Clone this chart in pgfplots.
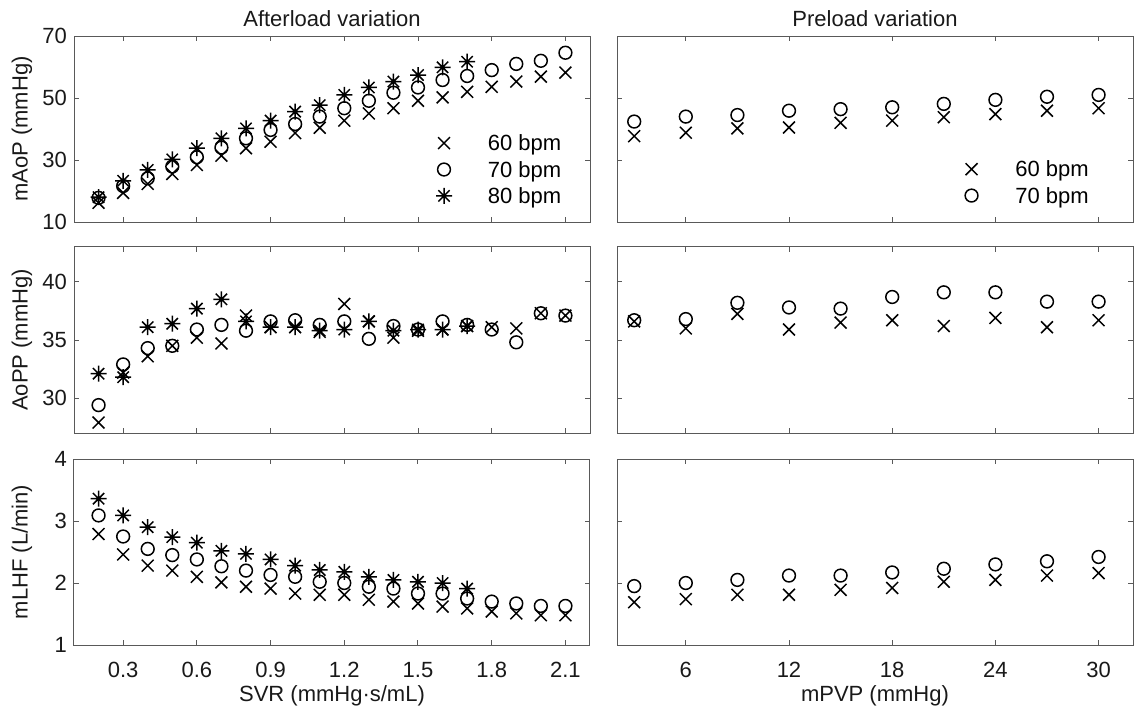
\documentclass[border=0pt]{standalone}
\usepackage{fontspec}
\setmainfont{Liberation Sans}
\usepackage{pgfplots}
\pgfplotsset{compat=1.18}

% MATLAB-style asterisk: plus and cross together
\pgfdeclareplotmark{ast8}{%
  \pgfpathmoveto{\pgfqpoint{-\pgfplotmarksize}{0pt}}\pgfpathlineto{\pgfqpoint{\pgfplotmarksize}{0pt}}%
  \pgfpathmoveto{\pgfqpoint{0pt}{-\pgfplotmarksize}}\pgfpathlineto{\pgfqpoint{0pt}{\pgfplotmarksize}}%
  \pgfpathmoveto{\pgfqpoint{-.7071\pgfplotmarksize}{-.7071\pgfplotmarksize}}\pgfpathlineto{\pgfqpoint{.7071\pgfplotmarksize}{.7071\pgfplotmarksize}}%
  \pgfpathmoveto{\pgfqpoint{-.7071\pgfplotmarksize}{.7071\pgfplotmarksize}}\pgfpathlineto{\pgfqpoint{.7071\pgfplotmarksize}{-.7071\pgfplotmarksize}}%
  \pgfusepathqstroke}

\pgfplotsset{
  panel/.style={scale only axis, width=258pt, height=93pt, anchor=south west,
    axis line style={draw=black!65,line width=0.5pt},
    tick style={draw=black!65,line width=0.5pt},
    tick align=inside, tick pos=both, major tick length=2.6pt,
    tick label style={font=\fontsize{11}{12}\selectfont,text=black!90},
    xticklabel style={anchor=base,yshift=-16pt},
    label style={font=\fontsize{11}{12}\selectfont,text=black!90},
    ylabel style={at={(axis description cs:-0.1008,0.5)},anchor=center},
    xlabel style={at={(axis description cs:0.5,0)},anchor=base,yshift=-28pt},
    every axis title/.style={at={(axis description cs:0.5,1)},anchor=base,yshift=4.75pt,
      font=\fontsize{11}{12}\selectfont,text=black!90},
    legend style={draw=none,fill=none,inner sep=0pt,outer sep=0pt,
      font=\fontsize{11}{12}\selectfont,cells={anchor=west},
      nodes={text height=7.5pt,text depth=2.5pt,inner ysep=1.6pt}},
    clip=false},
  lft/.style={panel, xmin=0.1, xmax=2.2, xtick={0.3,0.6,0.9,1.2,1.5,1.8,2.1}},
  rgt/.style={panel, xmin=2, xmax=32, xtick={6,12,18,24,30}, yticklabels={}},
  mkleg/.style={legend image code/.code={\path[draw=none,fill=none] (0cm,-1pt) rectangle (1.0cm,1pt); \draw[##1] plot coordinates {(0.3cm,1.4pt)};}},
  s60/.style={only marks, mark=x, mark size=4.2pt, line width=0.75pt, color=black, mkleg},
  s70/.style={only marks, mark=o, mark size=3.2pt, line width=0.75pt, color=black, mkleg},
  s80/.style={only marks, mark=ast8, mark size=4pt, line width=0.75pt, color=black, mkleg},
}

\begin{document}
\begin{tikzpicture}
\useasboundingbox (0,0) rectangle (568pt,354pt);

% ---- row 1: mAoP ----
\begin{axis}[lft, at={(37pt,243pt)}, ymin=10, ymax=70, ytick={10,30,50,70},
  yticklabels={10,30,50,70}, xticklabels={}, ylabel={mAoP (mmHg)},
  title={Afterload variation},
  legend style={at={(axis description cs:0.952,0.48)},anchor=north east}]
\addplot[s60] coordinates {(0.2,16.2)(0.3,19.4)(0.4,22.3)(0.5,25.5)(0.6,28.4)(0.7,31.4)(0.8,33.8)(0.9,35.9)(1.0,38.7)(1.1,40.4)(1.2,42.7)(1.3,45.0)(1.4,46.7)(1.5,49.1)(1.6,50.2)(1.7,52.0)(1.8,53.6)(1.9,55.3)(2.0,56.9)(2.1,58.2)};
\addplot[s70] coordinates {(0.2,17.8)(0.3,21.6)(0.4,24.1)(0.5,27.9)(0.6,30.9)(0.7,34.0)(0.8,37.0)(0.9,39.7)(1.0,41.6)(1.1,44.0)(1.2,46.7)(1.3,49.1)(1.4,51.7)(1.5,53.4)(1.6,55.8)(1.7,57.1)(1.8,59.0)(1.9,61.0)(2.0,62.0)(2.1,64.6)};
\addplot[s80] coordinates {(0.2,18.0)(0.3,23.3)(0.4,26.8)(0.5,30.2)(0.6,33.8)(0.7,37.0)(0.8,40.2)(0.9,42.7)(1.0,45.6)(1.1,47.7)(1.2,51.0)(1.3,53.4)(1.4,55.3)(1.5,57.4)(1.6,59.9)(1.7,61.7)};
\legend{60 bpm,70 bpm,80 bpm}
\end{axis}

\begin{axis}[rgt, at={(308.5pt,243pt)}, ymin=10, ymax=70, ytick={10,30,50,70},
  xticklabels={}, title={Preload variation},
  legend style={at={(axis description cs:0.922,0.34)},anchor=north east}]
\addplot[s60] coordinates {(3,37.7)(6,38.8)(9,40.2)(12,40.5)(15,42.0)(18,42.7)(21,43.8)(24,44.8)(27,45.9)(30,46.7)};
\addplot[s70] coordinates {(3,42.4)(6,44.0)(9,44.5)(12,45.9)(15,46.4)(18,47.0)(21,48.1)(24,49.4)(27,50.4)(30,51.0)};
\legend{60 bpm,70 bpm}
\end{axis}

% ---- row 2: AoPP ----
\begin{axis}[lft, at={(37pt,137.5pt)}, ymin=27, ymax=43, ytick={30,35,40},
  yticklabels={30,35,40}, xticklabels={}, ylabel={AoPP (mmHg)}]
\addplot[s60] coordinates {(0.2,27.9)(0.3,32.2)(0.4,33.6)(0.5,34.5)(0.6,35.2)(0.7,34.7)(0.8,37.1)(0.9,36.1)(1.0,36.1)(1.1,35.7)(1.2,38.1)(1.3,36.6)(1.4,35.2)(1.5,35.8)(1.6,35.9)(1.7,36.2)(1.8,36.1)(1.9,36.0)(2.0,37.3)(2.1,37.1)};
\addplot[s70] coordinates {(0.2,29.4)(0.3,32.9)(0.4,34.3)(0.5,34.5)(0.6,35.9)(0.7,36.3)(0.8,35.8)(0.9,36.6)(1.0,36.7)(1.1,36.3)(1.2,36.6)(1.3,35.1)(1.4,36.2)(1.5,35.9)(1.6,36.6)(1.7,36.3)(1.8,35.9)(1.9,34.8)(2.0,37.3)(2.1,37.1)};
\addplot[s80] coordinates {(0.2,32.1)(0.3,31.8)(0.4,36.1)(0.5,36.4)(0.6,37.7)(0.7,38.5)(0.8,36.6)(0.9,36.1)(1.0,36.1)(1.1,35.8)(1.2,35.9)(1.3,36.6)(1.4,35.8)(1.5,35.9)(1.6,35.9)(1.7,36.2)};
\end{axis}

\begin{axis}[rgt, at={(308.5pt,137.5pt)}, ymin=27, ymax=43, ytick={30,35,40},
  xticklabels={}]
\addplot[s60] coordinates {(3,36.6)(6,36.0)(9,37.25)(12,35.9)(15,36.5)(18,36.7)(21,36.2)(24,36.9)(27,36.1)(30,36.7)};
\addplot[s70] coordinates {(3,36.7)(6,36.8)(9,38.2)(12,37.8)(15,37.7)(18,38.7)(21,39.1)(24,39.1)(27,38.3)(30,38.3)};
\end{axis}

% ---- row 3: mLHF ----
\begin{axis}[lft, at={(37pt,31.5pt)}, ymin=1, ymax=4, ytick={1,2,3,4},
  yticklabels={1,2,3,4}, xticklabels={0.3,0.6,0.9,1.2,1.5,1.8,2.1},
  ylabel={mLHF (L/min)}, xlabel={SVR (mmHg·s/mL)}]
\addplot[s60] coordinates {(0.2,2.79)(0.3,2.46)(0.4,2.28)(0.5,2.20)(0.6,2.10)(0.7,2.01)(0.8,1.94)(0.9,1.91)(1.0,1.83)(1.1,1.81)(1.2,1.81)(1.3,1.73)(1.4,1.70)(1.5,1.67)(1.6,1.62)(1.7,1.59)(1.8,1.54)(1.9,1.51)(2.0,1.48)(2.1,1.48)};
\addplot[s70] coordinates {(0.2,3.09)(0.3,2.75)(0.4,2.55)(0.5,2.45)(0.6,2.38)(0.7,2.27)(0.8,2.20)(0.9,2.13)(1.0,2.10)(1.1,2.02)(1.2,2.00)(1.3,1.94)(1.4,1.91)(1.5,1.83)(1.6,1.83)(1.7,1.75)(1.8,1.70)(1.9,1.67)(2.0,1.63)(2.1,1.63)};
\addplot[s80] coordinates {(0.2,3.36)(0.3,3.09)(0.4,2.90)(0.5,2.74)(0.6,2.65)(0.7,2.52)(0.8,2.47)(0.9,2.38)(1.0,2.28)(1.1,2.21)(1.2,2.18)(1.3,2.10)(1.4,2.05)(1.5,2.02)(1.6,2.00)(1.7,1.91)};
\end{axis}

\begin{axis}[rgt, at={(308.5pt,31.5pt)}, ymin=1, ymax=4, ytick={1,2,3,4},
  xticklabels={6,12,18,24,30}, xlabel={mPVP (mmHg)}]
\addplot[s60] coordinates {(3,1.69)(6,1.74)(9,1.81)(12,1.81)(15,1.89)(18,1.92)(21,2.02)(24,2.05)(27,2.12)(30,2.16)};
\addplot[s70] coordinates {(3,1.95)(6,2.00)(9,2.05)(12,2.12)(15,2.12)(18,2.17)(21,2.23)(24,2.30)(27,2.35)(30,2.42)};
\end{axis}
\end{tikzpicture}
\end{document}
